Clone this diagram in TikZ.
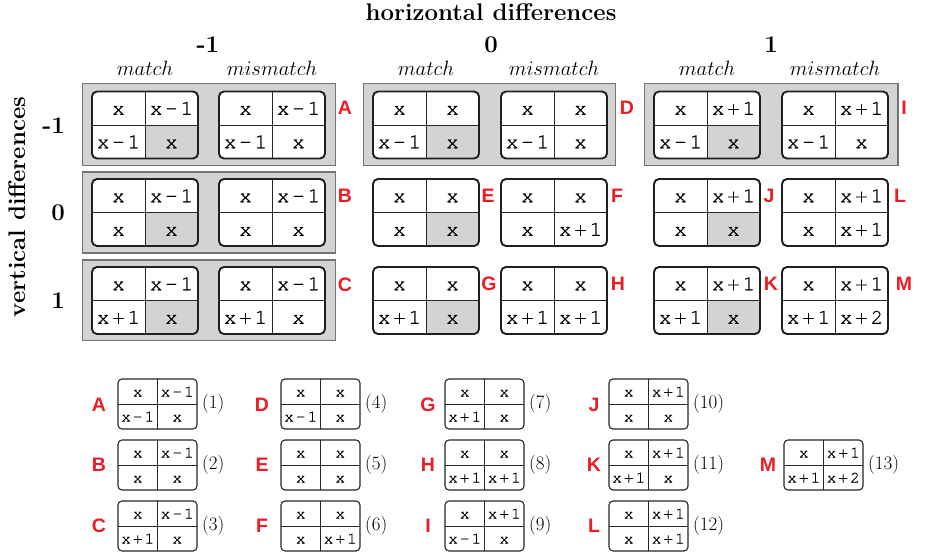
\documentclass[tikz,border=0pt]{standalone}
\usepackage{fontspec}
\newfontfamily\lblfont{Liberation Sans}
\newfontfamily\cellfont{texgyrecursor-regular.otf}[FakeBold=0.4]
\newfontfamily\smallcellfont{texgyrecursor-regular.otf}[FakeBold=0.15]
\usetikzlibrary{calc}
\definecolor{cellgray}{RGB}{211,211,211}
\definecolor{lblred}{RGB}{237,28,36}
\newcommand\gp{\kern.13em}
\newcommand\Xm{x\gp-\gp1}
\newcommand\Xp{x\gp+\gp1}
\newcommand\Xpp{x\gp+\gp2}
\tikzset{
  panel/.style={fill=cellgray, draw=black!55, line width=1.3pt, anchor=north west, inner sep=0, outer sep=0},
  bigbox/.style={minimum width=106pt, minimum height=67pt, inner sep=0, outer sep=0, anchor=north west},
  smallbox/.style={minimum width=79pt, minimum height=50pt, inner sep=0, outer sep=0, anchor=north west},
  bigborder/.style={draw=black!88, line width=1.9pt, rounded corners=5pt},
  smallborder/.style={draw=black!85, line width=1.1pt, rounded corners=4pt},
  divider/.style={draw=black!85, line width=0.9pt},
  bigtxt/.style={font=\fontsize{21}{21}\cellfont, text height=13pt, text depth=0pt, inner sep=0},
  smalltxt/.style={font=\fontsize{16}{16}\smallcellfont, text height=10pt, text depth=0pt, inner sep=0},
  hdr/.style={font=\fontsize{24}{24}\selectfont\bfseries, inner sep=0},
  sub/.style={font=\fontsize{20.74}{24}\selectfont, inner sep=0, anchor=base},
  lbl/.style={font=\fontsize{19.5}{20}\lblfont\bfseries, text=lblred, inner sep=0},
  num/.style={font=\fontsize{19}{19}\selectfont, inner sep=0, anchor=west},
}
% name, position, TL, TR, BL, BR, shade(1/0)
\newcommand\BigGrid[7]{%
  \node[bigbox] (#1) at (#2) {};
  \fill[white, rounded corners=5pt] (#1.north west) rectangle (#1.south east);
  \ifnum#7=1
    \begin{scope}
      \clip[rounded corners=5pt] (#1.north west) rectangle (#1.south east);
      \fill[cellgray] (#1.center) rectangle (#1.south east);
    \end{scope}
  \fi
  \draw[divider] (#1.north) -- (#1.south) (#1.west) -- (#1.east);
  \draw[bigborder] (#1.north west) rectangle (#1.south east);
  \node[bigtxt] (#1-tl) at ($(#1.north west)!.5!(#1.center)$) {#3};
  \node[bigtxt] (#1-tr) at ($(#1.north east)!.5!(#1.center)$) {#4};
  \node[bigtxt] (#1-bl) at ($(#1.south west)!.5!(#1.center)$) {#5};
  \node[bigtxt] (#1-br) at ($(#1.south east)!.5!(#1.center)$) {#6};
}
% name, position, TL, TR, BL, BR
\newcommand\SmallGrid[6]{%
  \node[smallbox] (#1) at (#2) {};
  \fill[white, rounded corners=4pt] (#1.north west) rectangle (#1.south east);
  \draw[divider] (#1.north) -- (#1.south) (#1.west) -- (#1.east);
  \draw[smallborder] (#1.north west) rectangle (#1.south east);
  \node[smalltxt] (#1-tl) at ($(#1.north west)!.5!(#1.center)$) {#3};
  \node[smalltxt] (#1-tr) at ($(#1.north east)!.5!(#1.center)$) {#4};
  \node[smalltxt] (#1-bl) at ($(#1.south west)!.5!(#1.center)$) {#5};
  \node[smalltxt] (#1-br) at ($(#1.south east)!.5!(#1.center)$) {#6};
}
\begin{document}
\begin{tikzpicture}[x=1pt, y=-1pt]
\useasboundingbox (0,0) rectangle (926,554);
\fill[white] (0,0) rectangle (926,554);

% headers
\node[hdr, anchor=base] (hdiff) at (491,20) {horizontal differences};
\node[hdr, anchor=base] (hm1) at (208,52) {-1};
\node[hdr, anchor=base] (h0) at (491,52) {0};
\node[hdr, anchor=base] (h1) at (771,52) {1};
\node[sub] (s1) at (145,75) {$match$};
\node[sub] (s2) at (272,75) {$mismatch$};
\node[sub] (s3) at (426,75) {$match$};
\node[sub] (s4) at (554,75) {$mismatch$};
\node[sub] (s5) at (707,75) {$match$};
\node[sub] (s6) at (835,75) {$mismatch$};

\node[hdr, anchor=base, rotate=90] (vdiff) at (25,207) {vertical differences};
\node[hdr, anchor=base east] (vm1) at (65,133) {-1};
\node[hdr, anchor=base east] (v0) at (65,220) {0};
\node[hdr, anchor=base east] (v1) at (65,308) {1};

% panels
\node[panel, minimum width=253pt, minimum height=82pt] (pA) at (82.5,83.5) {};
\node[panel, minimum width=253pt, minimum height=81pt] (pB) at (82.5,172) {};
\node[panel, minimum width=253pt, minimum height=80.5pt] (pC) at (82.5,260) {};
\node[panel, minimum width=252pt, minimum height=82pt] (pD) at (363.5,83.5) {};
\node[panel, minimum width=253.5pt, minimum height=82pt] (pI) at (644.5,83.5) {};

% big grids: row -1
\BigGrid{gA1}{92,91.5}{x}{\Xm}{\Xm}{x}{1}
\BigGrid{gA2}{219,91.5}{x}{\Xm}{\Xm}{x}{0}
\BigGrid{gD1}{373,91.5}{x}{x}{\Xm}{x}{1}
\BigGrid{gD2}{501,91.5}{x}{x}{\Xm}{x}{0}
\BigGrid{gI1}{654,91.5}{x}{\Xp}{\Xm}{x}{1}
\BigGrid{gI2}{782,91.5}{x}{\Xp}{\Xm}{x}{0}
% row 0
\BigGrid{gB1}{92,179}{x}{\Xm}{x}{x}{1}
\BigGrid{gB2}{219,179}{x}{\Xm}{x}{x}{0}
\BigGrid{gE}{373,179}{x}{x}{x}{x}{1}
\BigGrid{gF}{501,179}{x}{x}{x}{\Xp}{0}
\BigGrid{gJ}{654,179}{x}{\Xp}{x}{x}{1}
\BigGrid{gL}{782,179}{x}{\Xp}{x}{\Xp}{0}
% row 1
\BigGrid{gC1}{92,267}{x}{\Xm}{\Xp}{x}{1}
\BigGrid{gC2}{219,267}{x}{\Xm}{\Xp}{x}{0}
\BigGrid{gG}{373,267}{x}{x}{\Xp}{x}{1}
\BigGrid{gH}{501,267}{x}{x}{\Xp}{\Xp}{0}
\BigGrid{gK}{654,267}{x}{\Xp}{\Xp}{x}{1}
\BigGrid{gM}{782,267}{x}{\Xp}{\Xp}{\Xpp}{0}

% big labels
\node[lbl] (lA) at (345,108) {A};
\node[lbl] (lB) at (345,196) {B};
\node[lbl] (lC) at (345,284.5) {C};
\node[lbl] (lD) at (627,108) {D};
\node[lbl] (lI) at (904,108) {I};
\node[lbl] (lE) at (488,196) {E};
\node[lbl] (lF) at (617,196) {F};
\node[lbl] (lG) at (489,284) {G};
\node[lbl] (lH) at (618,284) {H};
\node[lbl] (lJ) at (769,196) {J};
\node[lbl] (lL) at (900,196) {L};
\node[lbl] (lK) at (771,284) {K};
\node[lbl] (lM) at (904,284) {M};

% legend
\SmallGrid{sA}{118,379}{x}{\Xm}{\Xm}{x}
\SmallGrid{sB}{118,440}{x}{\Xm}{x}{x}
\SmallGrid{sC}{118,501}{x}{\Xm}{\Xp}{x}
\SmallGrid{sD}{281,379}{x}{x}{\Xm}{x}
\SmallGrid{sE}{281,440}{x}{x}{x}{x}
\SmallGrid{sF}{281,501}{x}{x}{x}{\Xp}
\SmallGrid{sG}{445,379}{x}{x}{\Xp}{x}
\SmallGrid{sH}{445,440}{x}{x}{\Xp}{\Xp}
\SmallGrid{sI}{445,501}{x}{\Xp}{\Xm}{x}
\SmallGrid{sJ}{609,379}{x}{\Xp}{x}{x}
\SmallGrid{sK}{609,440}{x}{\Xp}{\Xp}{x}
\SmallGrid{sL}{609,501}{x}{\Xp}{x}{\Xp}
\SmallGrid{sM}{784,440}{x}{\Xp}{\Xp}{\Xpp}

\node[lbl] (kA) at (99,404.5) {A};
\node[lbl] (kB) at (99,465) {B};
\node[lbl] (kC) at (99,526) {C};
\node[lbl] (kD) at (262,404.5) {D};
\node[lbl] (kE) at (262,465) {E};
\node[lbl] (kF) at (262,526) {F};
\node[lbl] (kG) at (428,404.5) {G};
\node[lbl] (kH) at (428,465) {H};
\node[lbl] (kI) at (428,526) {I};
\node[lbl] (kJ) at (594,404.5) {J};
\node[lbl] (kK) at (594,465) {K};
\node[lbl] (kL) at (594,526) {L};
\node[lbl] (kM) at (768,465) {M};

\node[num] (nA) at ($(sA.east)+(5,0)$) {(1)};
\node[num] (nB) at ($(sB.east)+(5,0)$) {(2)};
\node[num] (nC) at ($(sC.east)+(5,0)$) {(3)};
\node[num] (nD) at ($(sD.east)+(5,0)$) {(4)};
\node[num] (nE) at ($(sE.east)+(5,0)$) {(5)};
\node[num] (nF) at ($(sF.east)+(5,0)$) {(6)};
\node[num] (nG) at ($(sG.east)+(5,0)$) {(7)};
\node[num] (nH) at ($(sH.east)+(5,0)$) {(8)};
\node[num] (nI) at ($(sI.east)+(5,0)$) {(9)};
\node[num] (nJ) at ($(sJ.east)+(5,0)$) {(10)};
\node[num] (nK) at ($(sK.east)+(5,0)$) {(11)};
\node[num] (nL) at ($(sL.east)+(5,0)$) {(12)};
\node[num] (nM) at ($(sM.east)+(5,0)$) {(13)};
\end{tikzpicture}
\end{document}
